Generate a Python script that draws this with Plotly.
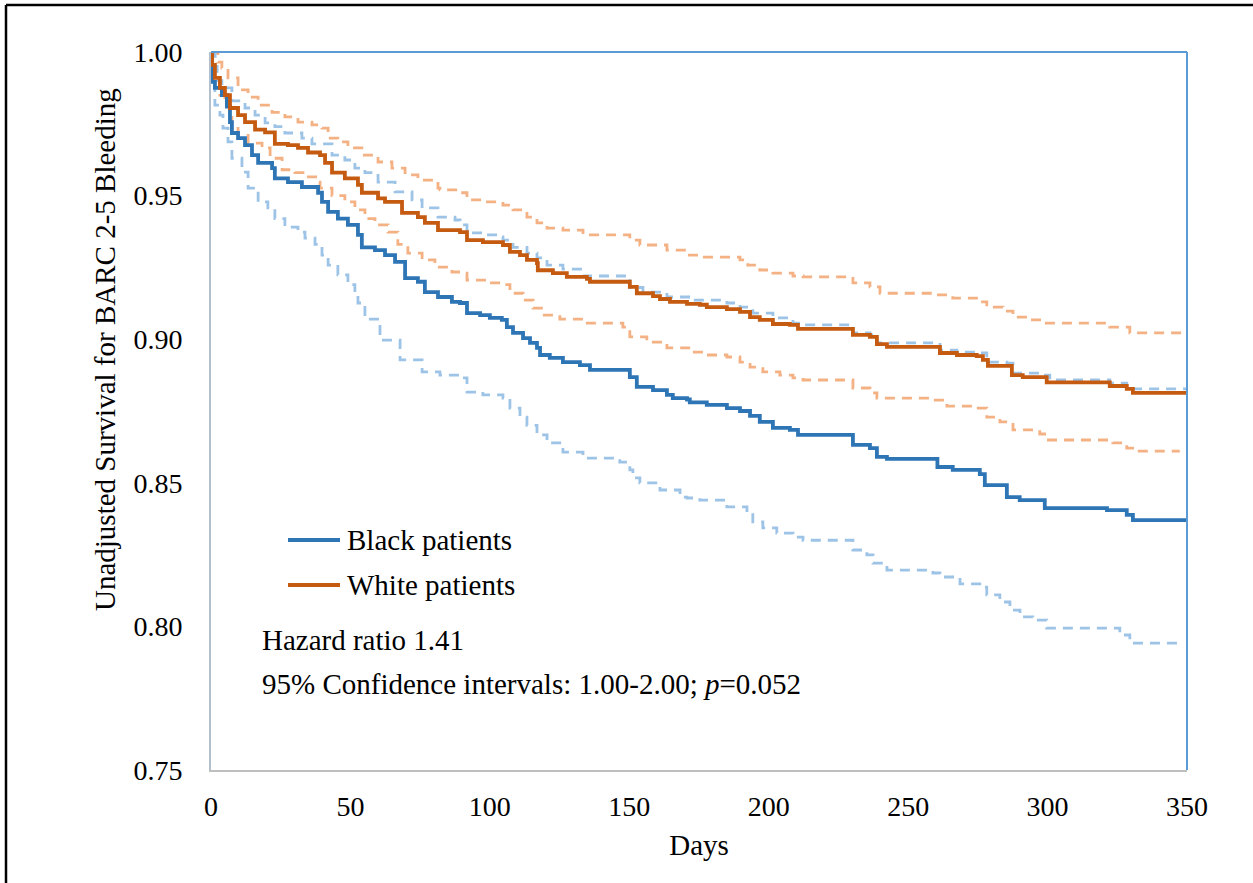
import plotly.graph_objects as go

# ---------------- data (days, survival) ----------------
black_days = [0, 0.4, 1.4, 3.9, 5.7, 6.8, 7.5, 9.7, 12.2, 14.7, 16.9, 21.9, 22.9, 27.6, 32.6, 38.4, 39.8,
              42.0, 45.5, 49.1, 52.7, 54.1, 58.8, 62.4, 66.0, 69.6, 74.2, 76.7, 81.4, 86.4, 89.3, 91.8,
              96.5, 100.0, 104.3, 106.1, 108.3, 111.9, 114.4, 116.9, 118.0, 121.5, 126.2, 132.3, 135.9,
              150.2, 152.7, 158.5, 163.5, 165.6, 170.7, 171.7, 177.8, 185.0, 189.7, 193.3, 196.8, 201.5,
              207.6, 210.5, 230.2, 236.3, 238.8, 242.4, 260.5, 266.0, 275.7, 277.5, 285.4, 290.0, 299.0,
              321.3, 328.4, 330.6, 350]
black_surv = [1.0, 0.9896, 0.9875, 0.985, 0.981, 0.9756, 0.9718, 0.970, 0.9676, 0.9641, 0.9614, 0.9596,
              0.956, 0.9547, 0.953, 0.951, 0.9478, 0.9443, 0.942, 0.9398, 0.9363, 0.932, 0.931, 0.9293,
              0.9269, 0.9213, 0.920, 0.9164, 0.9147, 0.913, 0.9126, 0.9091, 0.9084, 0.9074, 0.9067,
              0.9042, 0.9022, 0.9004, 0.8987, 0.897, 0.8945, 0.8935, 0.892, 0.891, 0.8893, 0.8868,
              0.8834, 0.8823, 0.8806, 0.8795, 0.879, 0.878, 0.8771, 0.876, 0.875, 0.8733, 0.8712,
              0.8691, 0.8684, 0.8667, 0.8632, 0.8621, 0.859, 0.8583, 0.8555, 0.8545, 0.853, 0.8492,
              0.845, 0.844, 0.8412, 0.8405, 0.8388, 0.837, 0.837]

white_days = [0, 0.4, 1.4, 3.2, 5.0, 6.8, 9.7, 12.2, 15.8, 19.4, 22.9, 27.6, 31.2, 34.8, 39.1, 40.9, 43.4,
              48.0, 52.7, 54.1, 59.9, 62.4, 68.5, 74.2, 76.7, 81.4, 89.3, 91.8, 97.5, 104.7, 107.2, 110.8,
              113.3, 116.9, 117.2, 122.6, 127.6, 134.8, 135.9, 150.2, 152.7, 158.5, 161.0, 164.6, 170.7,
              175.3, 177.8, 185.0, 189.7, 193.3, 196.8, 201.5, 207.6, 210.5, 230.2, 236.3, 238.8, 242.4,
              261.4, 267.5, 274.6, 276.8, 278.6, 287.2, 291.1, 299.7, 322.3, 328.4, 330.6, 350]
white_surv = [1.0, 0.9955, 0.991, 0.9875, 0.985, 0.9805, 0.978, 0.9756, 0.973, 0.972, 0.968, 0.9676,
              0.9666, 0.965, 0.9641, 0.9614, 0.958, 0.956, 0.9537, 0.951, 0.949, 0.9478, 0.944, 0.9425,
              0.9405, 0.938, 0.9373, 0.9345, 0.9338, 0.9328, 0.9304, 0.9293, 0.9276, 0.9265, 0.924,
              0.923, 0.9217, 0.921, 0.920, 0.9182, 0.916, 0.915, 0.914, 0.913, 0.9123, 0.912, 0.9112,
              0.9105, 0.9095, 0.9077, 0.9067, 0.9053, 0.905, 0.9036, 0.9015, 0.9008, 0.8983, 0.8973,
              0.8952, 0.8945, 0.8941, 0.8928, 0.8907, 0.8875, 0.8868, 0.885, 0.8837, 0.8827, 0.8813,
              0.8813]

black_up_days = [0, 1.5, 2.2, 3.9, 7.5, 12.2, 15.8, 19.4, 22.9, 26.5, 32.6, 36.2, 43.4, 48.0, 51.6, 55.2,
                 59.9, 66.0, 72.1, 75.7, 81.4, 87.5, 89.3, 91.8, 97.5, 103.6, 104.7, 108.3, 113.3, 116.9,
                 120.5, 126.2, 133.4, 150.2, 154.9, 163.5, 172.8, 185.0, 189.7, 194.3, 201.5, 208.7,
                 211.2, 230.2, 236.3, 238.8, 261.4, 267.5, 275.7, 278.2, 285.4, 287.6, 297.2, 300.8,
                 322.3, 328.4, 330.6, 350]
black_up_surv = [1.0, 0.995, 0.990, 0.9875, 0.983, 0.9805, 0.978, 0.9753, 0.974, 0.9718, 0.970, 0.968,
                 0.9641, 0.9624, 0.9596, 0.958, 0.9547, 0.9513, 0.9485, 0.9457, 0.9425, 0.9415, 0.9398,
                 0.937, 0.9363, 0.9356, 0.9345, 0.932, 0.930, 0.9283, 0.9258, 0.9244, 0.922, 0.918,
                 0.9164, 0.9147, 0.9136, 0.9126, 0.9112, 0.9091, 0.9074, 0.9056, 0.905, 0.9022, 0.9015,
                 0.8987, 0.8962, 0.8955, 0.8952, 0.892, 0.8917, 0.8882, 0.8875, 0.8858, 0.8847, 0.8837,
                 0.8827, 0.8827]

black_lo_days = [0, 0.3, 1.4, 3.2, 4.3, 6.1, 7.5, 11.1, 13.3, 16.9, 20.4, 22.9, 26.5, 31.2, 33.7, 37.3,
                 39.8, 42.0, 45.5, 49.1, 51.6, 52.7, 55.2, 60.6, 67.8, 75.7, 82.1, 89.3, 91.8, 97.5,
                 104.7, 107.2, 110.8, 113.3, 116.9, 120.5, 126.2, 133.4, 146.6, 150.2, 151.3, 153.8,
                 161.0, 168.2, 170.7, 175.3, 185.0, 192.2, 194.3, 197.9, 202.9, 208.7, 212.3, 230.2,
                 235.2, 237.4, 242.4, 258.9, 261.4, 268.6, 275.7, 278.2, 282.9, 286.5, 290.1, 294.7,
                 299.7, 318.8, 325.9, 329.5, 347.4]
black_lo_surv = [1.0, 0.990, 0.9815, 0.978, 0.9735, 0.9687, 0.963, 0.9582, 0.9526, 0.9478, 0.9457,
                 0.942, 0.939, 0.9373, 0.9352, 0.933, 0.9293, 0.9258, 0.9224, 0.919, 0.916, 0.9126,
                 0.907, 0.8997, 0.8928, 0.8886, 0.8875, 0.8865, 0.8816, 0.8806, 0.8795, 0.876, 0.8729,
                 0.870, 0.8667, 0.8639, 0.8607, 0.8586, 0.8572, 0.8545, 0.8517, 0.850, 0.8475, 0.845,
                 0.8447, 0.844, 0.8416, 0.8395, 0.8364, 0.8343, 0.8325, 0.8311, 0.830, 0.8266, 0.8249,
                 0.822, 0.8196, 0.8186, 0.8172, 0.8148, 0.8137, 0.811, 0.8085, 0.8057, 0.8033, 0.8022,
                 0.7994, 0.7994, 0.797, 0.7942, 0.7939]

white_up_days = [0, 0.4, 2.5, 3.9, 6.1, 9.7, 13.3, 16.9, 21.9, 26.5, 31.2, 36.2, 39.8, 42.0, 45.5, 49.1,
                 54.1, 59.9, 64.9, 69.6, 74.2, 81.4, 82.1, 89.3, 91.8, 97.5, 104.7, 108.3, 113.3, 116.9,
                 120.5, 126.2, 133.4, 150.2, 153.8, 163.5, 170.7, 175.3, 189.7, 192.5, 196.8, 201.5,
                 208.7, 212.3, 230.2, 236.3, 239.9, 260.3, 266.0, 275.7, 278.2, 284.0, 287.6, 292.6,
                 298.3, 322.3, 329.5, 350]
white_up_surv = [1.0, 0.9997, 0.9965, 0.9944, 0.991, 0.9868, 0.9843, 0.9815, 0.979, 0.9774, 0.9756,
                 0.9746, 0.9735, 0.970, 0.9687, 0.9666, 0.9641, 0.9617, 0.9596, 0.9572, 0.9554, 0.9526,
                 0.952, 0.951, 0.9485, 0.9478, 0.9467, 0.945, 0.9425, 0.9405, 0.9387, 0.938, 0.9363,
                 0.9345, 0.9328, 0.931, 0.9293, 0.9286, 0.9276, 0.9258, 0.9241, 0.923, 0.922, 0.9217,
                 0.9196, 0.9182, 0.916, 0.9154, 0.9143, 0.913, 0.9112, 0.9098, 0.9077, 0.9067, 0.9056,
                 0.9042, 0.9022, 0.9022]

white_lo_days = [0, 0.4, 1.4, 3.2, 5.0, 6.8, 7.5, 9.7, 13.3, 18.3, 21.2, 25.5, 30.1, 33.7, 38.4, 39.1,
                 43.4, 48.0, 51.6, 55.2, 58.8, 63.5, 67.0, 70.6, 75.7, 80.3, 86.4, 89.3, 91.8, 100.0,
                 104.7, 107.2, 111.9, 115.5, 119.0, 125.1, 133.4, 147.7, 150.2, 156.3, 163.5, 172.8,
                 177.8, 185.0, 189.7, 193.3, 197.9, 204.0, 208.7, 212.3, 230.2, 236.3, 238.8, 258.9,
                 263.9, 273.2, 278.2, 282.9, 287.6, 297.2, 299.7, 323.4, 328.4, 332.0, 347.4]
white_lo_surv = [1.0, 0.993, 0.9875, 0.985, 0.9815, 0.978, 0.9746, 0.971, 0.9683, 0.9666, 0.963, 0.959,
                 0.958, 0.9565, 0.9547, 0.9526, 0.950, 0.9478, 0.945, 0.942, 0.9398, 0.9373, 0.933,
                 0.930, 0.9276, 0.9251, 0.9234, 0.923, 0.9206, 0.9196, 0.919, 0.916, 0.9136, 0.9108,
                 0.9084, 0.907, 0.9056, 0.9042, 0.9008, 0.899, 0.897, 0.8955, 0.8945, 0.8938, 0.892,
                 0.8903, 0.8886, 0.8875, 0.8865, 0.8858, 0.883, 0.8813, 0.8795, 0.8788, 0.8767, 0.876,
                 0.8729, 0.8712, 0.8684, 0.867, 0.8649, 0.8639, 0.8621, 0.861, 0.861]

x_ticks = [0, 50, 100, 150, 200, 250, 300, 350]
y_ticks = [0.75, 0.80, 0.85, 0.90, 0.95, 1.00]
series_names = ["Black patients", "White patients"]
y_title = "Unadjusted Survival for BARC 2-5 Bleeding"

# ---------------- styling ----------------
BLUE = "#2E75B6"
ORANGE = "#C55A11"
LBLUE = "#9DC3E6"
LORANGE = "#F4B183"
FONT = "Liberation Serif, Times New Roman, serif"
TXT = 29
TICK = 28

W, H = 1253, 883
L, R, T, B = 211, 1187, 52, 770


def px_x(p):
    return (p - L) / (R - L)


def px_y(p):
    return (B - p) / (B - T)


fig = go.Figure()


def step(x, y, color, width, dash=None, name=None):
    fig.add_trace(go.Scatter(
        x=x, y=y, mode="lines", line_shape="hv", name=name, showlegend=False,
        line=dict(color=color, width=width, dash=dash), hoverinfo="skip"))


step(white_up_days, white_up_surv, LORANGE, 2.8, "10px,7px")
step(white_lo_days, white_lo_surv, LORANGE, 2.8, "10px,7px")
step(black_up_days, black_up_surv, LBLUE, 2.8, "10px,7px")
step(black_lo_days, black_lo_surv, LBLUE, 2.8, "10px,7px")
step(black_days, black_surv, BLUE, 3.8, name=series_names[0])
step(white_days, white_surv, ORANGE, 3.8, name=series_names[1])

shapes = []
shapes.append(dict(type="line", xref="paper", yref="paper", x0=0, x1=1, y0=1, y1=1,
                   line=dict(color="#5B9BD5", width=2)))
shapes.append(dict(type="line", xref="paper", yref="paper", x0=1, x1=1, y0=0, y1=1,
                   line=dict(color="#5B9BD5", width=2)))
shapes.append(dict(type="line", xref="paper", yref="paper", x0=px_x(6), x1=px_x(W + 5),
                   y0=px_y(5), y1=px_y(5), line=dict(color="black", width=2.5)))
shapes.append(dict(type="line", xref="paper", yref="paper", x0=px_x(6), x1=px_x(6),
                   y0=px_y(5), y1=px_y(H + 5), line=dict(color="black", width=2.5)))
shapes.append(dict(type="line", xref="paper", yref="paper", x0=px_x(288), x1=px_x(340),
                   y0=px_y(540), y1=px_y(540), line=dict(color=BLUE, width=3.8)))
shapes.append(dict(type="line", xref="paper", yref="paper", x0=px_x(288), x1=px_x(340),
                   y0=px_y(585), y1=px_y(585), line=dict(color=ORANGE, width=3.8)))


def ann(text, xp, yp, **kw):
    d = dict(text=text, x=px_x(xp), y=px_y(yp), xref="paper", yref="paper",
             xanchor="left", yanchor="middle", showarrow=False,
             font=dict(size=TXT, color="black", family=FONT))
    d.update(kw)
    return d


annotations = [
    ann(series_names[0], 345, 540),
    ann(series_names[1], 345, 585),
    ann("Hazard ratio 1.41", 260, 640),
    ann("95% Confidence intervals: 1.00-2.00; <i>p</i>=0.052", 260, 684),
    ann(y_title, 105, 350, textangle=-90, xanchor="center"),
]

fig.update_layout(
    width=W, height=H, autosize=False,
    margin=dict(l=L, r=W - R, t=T, b=H - B, pad=0),
    paper_bgcolor="white", plot_bgcolor="white",
    font=dict(family=FONT, size=TXT, color="black"),
    showlegend=False,
    shapes=shapes, annotations=annotations,
    xaxis=dict(range=[0, 350], tickvals=x_ticks, ticktext=[str(v) for v in x_ticks],
               showgrid=False, zeroline=False, showline=True, linecolor="#BFBFBF", linewidth=2,
               ticks="outside", ticklen=10, tickcolor="rgba(0,0,0,0)",
               tickfont=dict(size=TICK, family=FONT, color="black"),
               title=dict(text="Days", font=dict(size=TXT, family=FONT, color="black"), standoff=14),
               automargin=False, fixedrange=True),
    yaxis=dict(range=[0.75, 1.0], tickvals=y_ticks, ticktext=[f"{v:.2f}" for v in y_ticks],
               showgrid=False, zeroline=False, showline=True, linecolor="#B4BFCC", linewidth=2,
               ticks="outside", ticklen=21, tickcolor="rgba(0,0,0,0)",
               tickfont=dict(size=TICK, family=FONT, color="black"),
               automargin=False, fixedrange=True),
)

fig.write_html("out.html", config={"displayModeBar": False},
               post_script="document.body.style.margin='0px';document.body.style.overflow='hidden';")
